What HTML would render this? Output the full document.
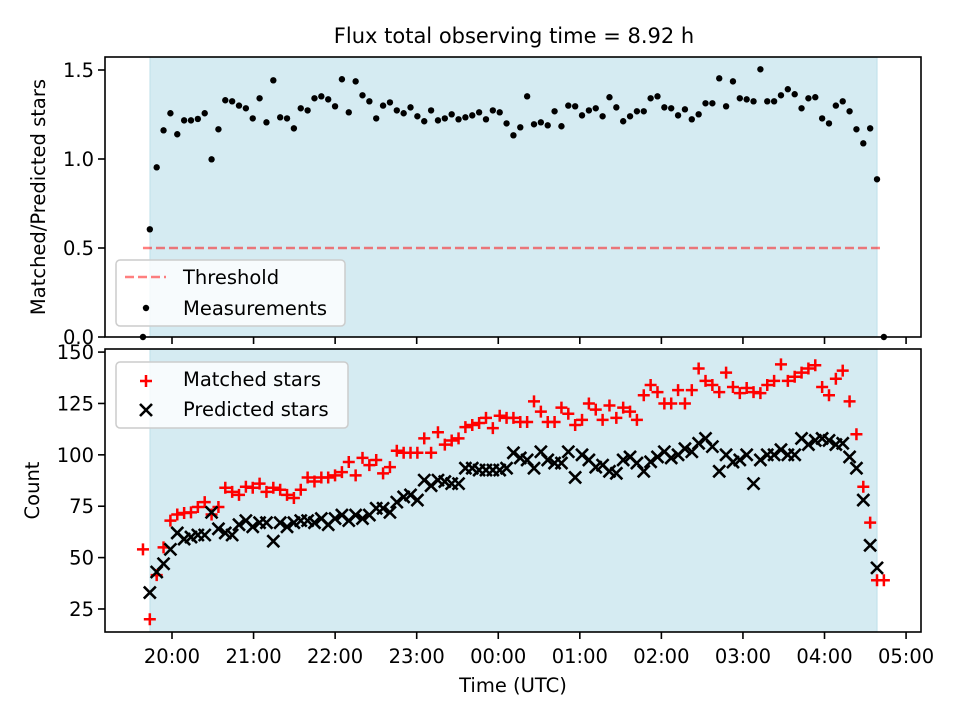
<!DOCTYPE html>
<html><head><meta charset="utf-8"><style>
body{margin:0;background:#fff}
svg{display:block;font-family:"DejaVu Sans","Liberation Sans",sans-serif}
</style></head><body>
<svg id="chart" width="960" height="720" viewBox="0 0 960 720" xmlns="http://www.w3.org/2000/svg"></svg>
<script>
// ---- data ----
const startHour = 0.644;   // hours after 19:00 of first sample
const stepHours = 0.08411; // sample spacing in hours
const ratioValues = [0,0.605,0.953,1.161,1.257,1.139,1.217,1.217,1.225,1.257,0.998,1.167,1.33,1.324,1.30,1.285,1.228,1.341,1.206,1.442,1.234,1.228,1.172,1.285,1.273,1.341,1.352,1.335,1.296,1.448,1.262,1.436,1.358,1.324,1.228,1.30,1.318,1.273,1.257,1.29,1.24,1.212,1.273,1.217,1.228,1.251,1.223,1.234,1.245,1.262,1.223,1.273,1.262,1.2,1.133,1.178,
1.352,1.195,1.206,1.189,1.268,1.184,1.30,1.296,1.245,1.273,1.285,1.24,1.347,1.29,1.212,1.24,1.268,1.268,1.341,1.352,1.29,1.285,1.245,1.279,1.223,1.251,1.313,1.313,1.453,1.296,1.436,1.341,1.335,1.324,1.504,1.324,1.324,1.358,1.392,1.364,1.285,1.341,1.347,1.228,1.2,1.30,1.324,1.268,1.167,1.088,1.172,0.886,0];
const matchedValues = [54,20,41.5,55,68,71,71.7,72,74.6,77,71,74.6,84,82,80.5,84.5,84,86,82,84,83,80.5,79,83,89,87,89,89,
90,91.6,96.5,90,98.5,95,97.5,91,94,102,101,101,101,108,101,111,105,107,108,113.5,114.5,115.5,118,113,119,118,118,116,116,126,
121,116,116,123,120,114.5,117,125,122,117,124,118,123,121,117,129,134,130.5,125,125,131.5,125,131.5,142,136,134,130.5,140,
133,130,132.5,130.5,130,134,136,144,136,138,140,142,143.6,133,129,137,141,126,110,84.5,67,39,39];
const predictedValues = [0,33,43,47,54,62,59,60,61,61,72,64,62,61,66,68,65,67,67,58,67,65,67,68,68,67,69,66,
69,70.7,68,70.7,69,70.7,74,74,72,77,79.5,80.5,78,87.7,85,87.7,87,86,86,93.5,93.5,92.6,92.6,92.6,92.6,93.5,101,98.5,97.5,93.5,
101.5,97.5,96,96,101.5,89,100,97.5,94,95,92,91,97.5,99,96,92,96.6,99,101.5,98.5,100,103,101.5,105.6,108,104,92,100,
96.5,97.5,100,86,97.5,100,100,102.5,100,100,108,105,107,108,107,105,105.6,99,93.5,78,56,45,0];
const xTickHours = [1,2,3,4,5,6,7,8,9,10];
const xTickLabels = ["20:00","21:00","22:00","23:00","00:00","01:00","02:00","03:00","04:00","05:00"];
const topYTicks = [0,0.5,1.0,1.5];
const topYLabels = ["0.0","0.5","1.0","1.5"];
const botYTicks = [25,50,75,100,125,150];
const thresholdValue = 0.5;
const spanStart = 0.730, spanEnd = 9.644;

// ---- layout ----
const L=105,R=921, T1=57,B1=337, T2=349,B2=632;
const xDom=[0.1785,10.183], y1Dom=[0,1.573], y2Dom=[13.8,151.5];
const X=h=>L+(h-xDom[0])/(xDom[1]-xDom[0])*(R-L);
const Y1=v=>B1-(v-y1Dom[0])/(y1Dom[1]-y1Dom[0])*(B1-T1);
const Y2=v=>B2-(v-y2Dom[0])/(y2Dom[1]-y2Dom[0])*(B2-T2);
const tHour=i=>startHour+i*stepHours;
const svg=document.getElementById('chart');
const NS='http://www.w3.org/2000/svg';
function mk(tag,attrs,parent){const e=document.createElementNS(NS,tag);for(const k in attrs)e.setAttribute(k,attrs[k]);(parent||svg).appendChild(e);return e;}

// title
let t=mk('text',{x:514,y:43,'text-anchor':'middle','font-size':21});t.textContent='Flux total observing time = 8.92 h';



function panel(T,B,name){
  const g=mk('g',{});
  
  
  const s=mk('rect',{x:X(spanStart),y:T,width:X(spanEnd)-X(spanStart),height:B-T,fill:'#d5ebf2',stroke:'#bfe0ea','stroke-width':1},g);
  
  
  return g;
}
const g1=panel(T1,B1,'ratio-panel');
const g2=panel(T2,B2,'count-panel');

// threshold
let th=mk('line',{x1:X(tHour(0)),x2:X(tHour(ratioValues.length-1)),y1:Y1(thresholdValue),y2:Y1(thresholdValue),stroke:'rgba(255,0,0,0.5)','stroke-width':2.5,'stroke-dasharray':'9,4'},g1);



// measurements
ratioValues.forEach((v,i)=>{
  const c=mk('circle',{cx:X(tHour(i)),cy:Y1(v),r:3.2,fill:'#000'},g1);
  
  
});

// matched / predicted
function plus(cx,cy,g){const p=mk('path',{d:`M${cx-6},${cy}H${cx+6}M${cx},${cy-6}V${cy+6}`,stroke:'#f00','stroke-width':2.5,fill:'none'},g);return p;}
function cross(cx,cy,g){const p=mk('path',{d:`M${cx-6},${cy-6}L${cx+6},${cy+6}M${cx-6},${cy+6}L${cx+6},${cy-6}`,stroke:'#000','stroke-width':2.6,fill:'none'},g);return p;}
const clip=mk('clipPath',{id:'c2'});mk('rect',{x:L,y:T2,width:R-L,height:B2-T2},clip);
const gm=mk('g',{'clip-path':'url(#c2)'},g2);
matchedValues.forEach((v,i)=>{
  const p=plus(X(tHour(i)),Y2(v),gm);
  
  
});
predictedValues.forEach((v,i)=>{
  const p=cross(X(tHour(i)),Y2(v),gm);
  
  
});

// axes frames
[[T1,B1,'ratio-axes-frame'],[T2,B2,'count-axes-frame']].forEach(([T,B,n])=>{
  const r=mk('rect',{x:L,y:T,width:R-L,height:B-T,fill:'none',stroke:'#000','stroke-width':1.6});
  
  
});
// x ticks
xTickHours.forEach((h,i)=>{
  const x=X(h);
  mk('line',{x1:x,x2:x,y1:B1,y2:B1+7,stroke:'#000','stroke-width':1.6});
  mk('line',{x1:x,x2:x,y1:B2,y2:B2+7,stroke:'#000','stroke-width':1.6});
  const tx=mk('text',{x:x,y:663,'text-anchor':'middle','font-size':19.5});tx.textContent=xTickLabels[i];
  
  
});
topYTicks.forEach((v,i)=>{
  const y=Y1(v);
  mk('line',{x1:L-7,x2:L,y1:y,y2:y,stroke:'#000','stroke-width':1.6});
  const tx=mk('text',{x:L-11,y:y+7,'text-anchor':'end','font-size':19.5});tx.textContent=topYLabels[i];
  
  
});
botYTicks.forEach(v=>{
  const y=Y2(v);
  mk('line',{x1:L-7,x2:L,y1:y,y2:y,stroke:'#000','stroke-width':1.6});
  const tx=mk('text',{x:L-11,y:y+7,'text-anchor':'end','font-size':19.5});tx.textContent=String(v);
  
  
});
// axis labels
let a=mk('text',{x:513,y:692,'text-anchor':'middle','font-size':19.5});a.textContent='Time (UTC)';

a=mk('text',{x:0,y:0,'text-anchor':'middle','font-size':19.5,transform:`translate(45,${(T1+B1)/2}) rotate(-90)`});a.textContent='Matched/Predicted stars';

a=mk('text',{x:0,y:0,'text-anchor':'middle','font-size':19.5,transform:`translate(39,${(T2+B2)/2}) rotate(-90)`});a.textContent='Count';


// legends
function legendBox(x,y,w,h,name){const r=mk('rect',{x:x,y:y,width:w,height:h,rx:4,fill:'rgba(255,255,255,0.8)',stroke:'#ccc','stroke-width':1.5});
  }
legendBox(116,260,229,66,'top-legend');
mk('line',{x1:125,x2:166,y1:277,y2:277,stroke:'rgba(255,0,0,0.5)','stroke-width':2.5,'stroke-dasharray':'9,4'});
let lt=mk('text',{x:183,y:284,'font-size':19.5});lt.textContent='Threshold';

mk('circle',{cx:146,cy:308,r:3.2,fill:'#000'});
lt=mk('text',{x:183,y:315,'font-size':19.5});lt.textContent='Measurements';

legendBox(116,362,232,66,'bottom-legend');
plus(146,381,svg);
lt=mk('text',{x:183,y:386,'font-size':19.5});lt.textContent='Matched stars';

cross(146,410,svg);
lt=mk('text',{x:183,y:416,'font-size':19.5});lt.textContent='Predicted stars';

</script>
</body></html>
